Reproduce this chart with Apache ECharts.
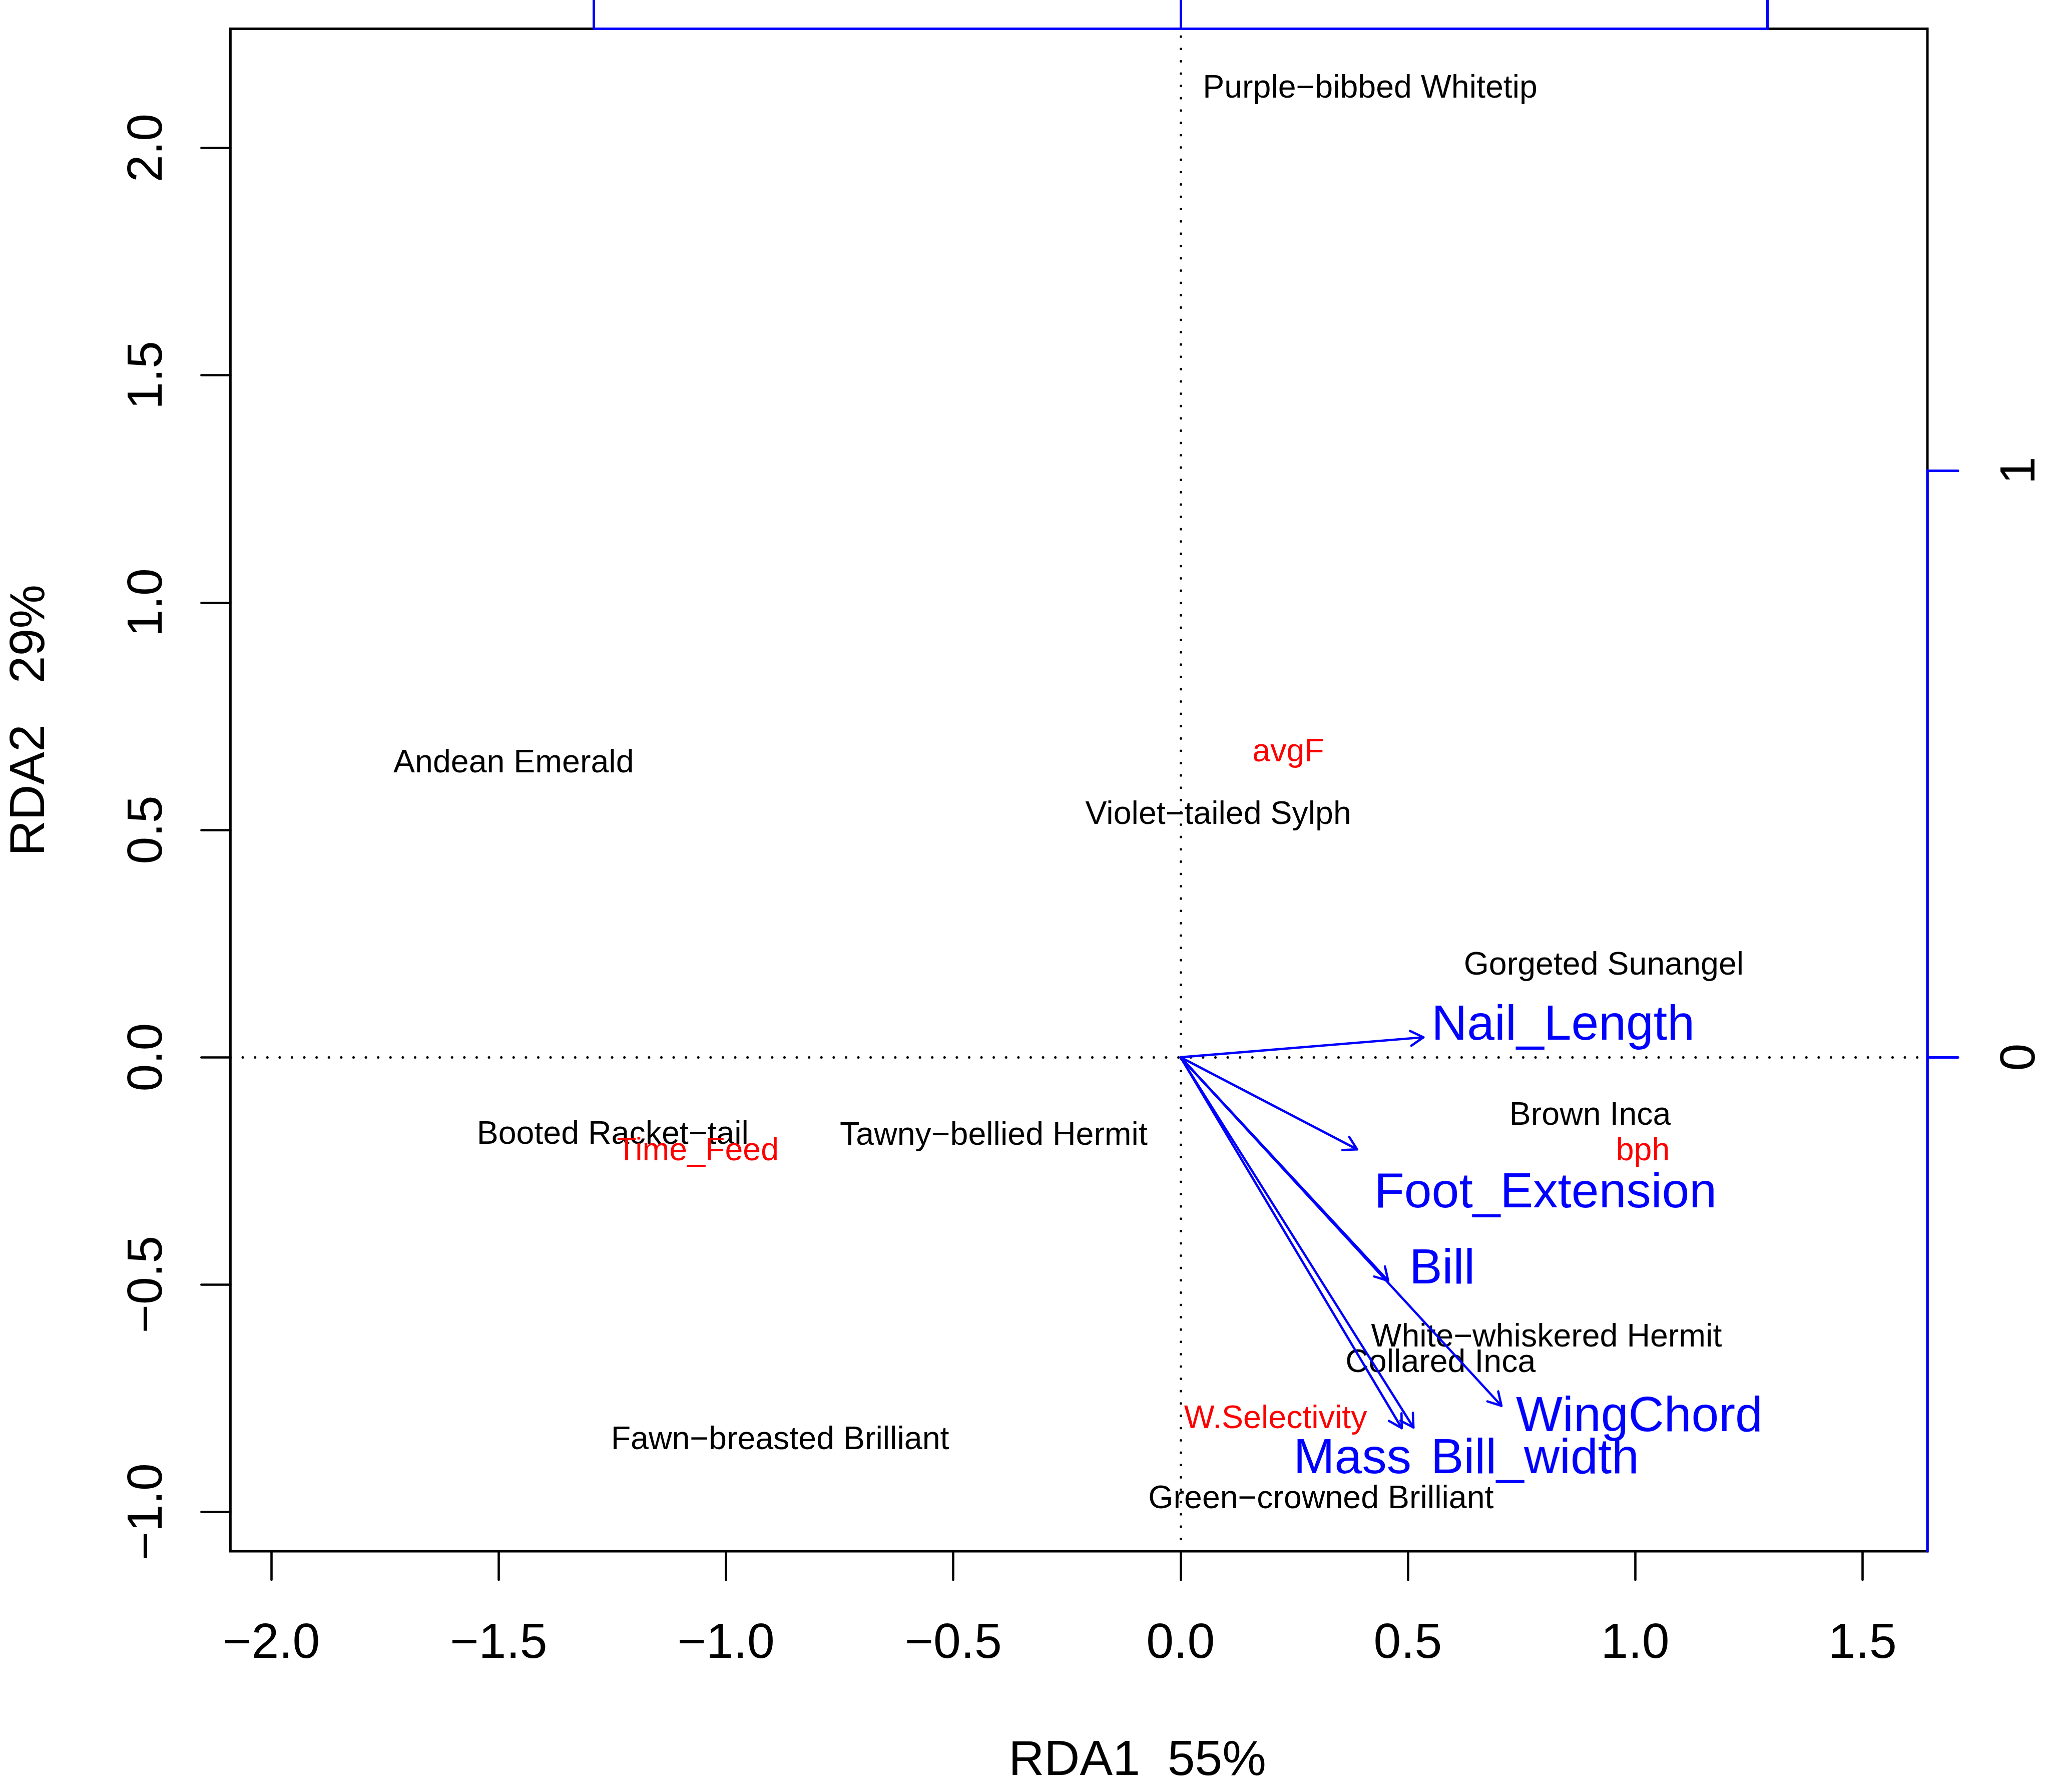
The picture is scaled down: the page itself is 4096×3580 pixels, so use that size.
<!DOCTYPE html>
<html>
<head>
<meta charset="utf-8">
<script src="https://cdn.jsdelivr.net/npm/echarts@6/dist/echarts.min.js"></script>
<style>
html,body{margin:0;padding:0;background:#fff;}
#chart{width:4096px;height:3580px;}
</style>
</head>
<body>
<div id="chart"></div>
<script>
// ---------------- data ----------------
const speciesNames = ["Purple\u2212bibbed Whitetip","Andean Emerald","Violet\u2212tailed Sylph","Gorgeted Sunangel","Brown Inca","Booted Racket\u2212tail","Tawny\u2212bellied Hermit","White\u2212whiskered Hermit","Collared Inca","Fawn\u2212breasted Brilliant","Green\u2212crowned Brilliant"];
const speciesX = [0.417, -1.467, 0.083, 0.931, 0.901, -1.249, -0.411, 0.805, 0.572, -0.881, 0.309];
const speciesY = [2.136, 0.651, 0.538, 0.207, -0.124, -0.165, -0.168, -0.611, -0.667, -0.837, -0.967];

const centroidNames = ["avgF", "Time_Feed", "bph", "W.Selectivity"];
const centroidX = [0.237, -1.062, 1.017, 0.209];
const centroidY = [0.676, -0.202, -0.202, -0.791];

const arrowNames = ["Nail_Length", "Foot_Extension", "Bill", "WingChord", "Mass", "Bill_width"];
const arrowX = [0.414, 0.301, 0.354, 0.547, 0.377, 0.397];
const arrowY = [0.034, -0.157, -0.381, -0.594, -0.632, -0.631];
const arrowLabelX = [0.652, 0.622, 0.446, 0.782, 0.293, 0.604];
const arrowLabelY = [0.059, -0.226, -0.356, -0.608, -0.679, -0.679];

const xTicks = [-2, -1.5, -1, -0.5, 0, 0.5, 1, 1.5];
const yTicks = [-1, -0.5, 0, 0.5, 1, 1.5, 2];
const topTicks = [-1, 0, 1];
const rightTicks = [0, 1];

const xTitle = "RDA1  55%";
const yTitle = "RDA2   29%";

// axis ranges (main scores) and biplot-axis scale factor
const X_MIN = -2.090, X_MAX = 1.643;
const Y_MIN = -1.0865, Y_MAX = 2.262;
const ARROW_SCALE = 1.2906;

// ---------------- style ----------------
const FONT = '"Liberation Sans", Arial, Helvetica, sans-serif';
const BIG = 98.5, SMALL = 64.5;
const BLUE = '#0000FF', RED = '#FF0000', BLACK = '#000000';
const LW = 4.6;
const DY = 0.075; // cap-centre correction (em)

const fmt = v => v.toFixed(1).replace('-', '\u2212');

function textSeries(names, xs, ys, color, size, axisIdx) {
  return {
    type: 'custom',
    xAxisIndex: axisIdx, yAxisIndex: axisIdx,
    silent: true,
    z: 5,
    data: names.map((n, i) => [xs[i], ys[i]]),
    renderItem: function (params, api) {
      const p = api.coord([api.value(0), api.value(1)]);
      return {
        type: 'text',
        style: {
          x: p[0], y: p[1] + DY * size,
          text: names[params.dataIndex],
          fill: color,
          font: size + 'px ' + FONT,
          align: 'center',
          verticalAlign: 'middle'
        }
      };
    }
  };
}

const HEAD = 29.5, HEAD_ANG = Math.PI / 6;

const option = {
  animation: false,
  backgroundColor: '#ffffff',
  grid: {
    left: 460.4, top: 57.5, width: 3390.7, height: 3041.5,
    show: true, borderColor: BLACK, borderWidth: 4.9, containLabel: false
  },
  xAxis: [
    {
      type: 'value', min: X_MIN, max: X_MAX, position: 'bottom',
      axisLine: { show: false, onZero: false },
      splitLine: { show: false },
      axisTick: { show: true, customValues: xTicks, length: 57, inside: false, lineStyle: { color: BLACK, width: LW, cap: 'round' } },
      axisLabel: { show: true, customValues: xTicks, formatter: fmt, fontSize: BIG, fontFamily: FONT, color: BLACK, margin: 136 }
    },
    {
      type: 'value', min: X_MIN / ARROW_SCALE, max: X_MAX / ARROW_SCALE, position: 'top',
      axisLine: { show: false, onZero: false },
      splitLine: { show: false },
      axisTick: { show: true, customValues: topTicks, length: 60, inside: false, lineStyle: { color: BLUE, width: 5, cap: 'round' } },
      axisLabel: { show: false }
    }
  ],
  yAxis: [
    {
      type: 'value', min: Y_MIN, max: Y_MAX, position: 'left',
      axisLine: { show: false, onZero: false },
      splitLine: { show: false },
      axisTick: { show: true, customValues: yTicks, length: 58, inside: false, lineStyle: { color: BLACK, width: LW, cap: 'round' } },
      axisLabel: { show: true, customValues: yTicks, formatter: fmt, rotate: 90, fontSize: BIG, fontFamily: FONT, color: BLACK, margin: 115 }
    },
    {
      type: 'value', min: Y_MIN / ARROW_SCALE, max: Y_MAX / ARROW_SCALE, position: 'right',
      axisLine: { show: false, onZero: false },
      splitLine: { show: false },
      axisTick: { show: true, customValues: rightTicks, length: 61, inside: false, lineStyle: { color: BLUE, width: 5, cap: 'round' } },
      axisLabel: { show: true, customValues: rightTicks, formatter: v => String(v), rotate: 90, fontSize: BIG, fontFamily: FONT, color: BLACK, margin: 137 }
    }
  ],
  graphic: [
    { type: 'text', x: 2272.5, y: 3511 + DY * BIG, silent: true,
      style: { text: xTitle, font: BIG + 'px ' + FONT, fill: BLACK, align: 'center', verticalAlign: 'middle' } },
    { type: 'text', x: 53 + DY * BIG, y: 1439, rotation: Math.PI / 2, silent: true,
      style: { text: yTitle, font: BIG + 'px ' + FONT, fill: BLACK, align: 'center', verticalAlign: 'middle' } }
  ],
  series: [
    // species labels (+ dotted zero lines)
    Object.assign(textSeries(speciesNames, speciesX, speciesY, BLACK, SMALL, 0), {
      markLine: {
        silent: true, symbol: ['none', 'none'], label: { show: false },
        lineStyle: { color: BLACK, width: 5, type: [0.1, 24.5], cap: 'round' },
        emphasis: { disabled: true },
        data: [{ xAxis: 0 }, { yAxis: 0 }]
      }
    }),
    textSeries(centroidNames, centroidX, centroidY, RED, SMALL, 0),
    // biplot arrows
    {
      type: 'custom', xAxisIndex: 1, yAxisIndex: 1, silent: true, z: 6,
      data: arrowNames.map((n, i) => [arrowX[i], arrowY[i]]),
      renderItem: function (params, api) {
        const o = api.coord([0, 0]);
        const t = api.coord([api.value(0), api.value(1)]);
        const ang = Math.atan2(t[1] - o[1], t[0] - o[0]);
        const h1 = [t[0] - HEAD * Math.cos(ang - HEAD_ANG), t[1] - HEAD * Math.sin(ang - HEAD_ANG)];
        const h2 = [t[0] - HEAD * Math.cos(ang + HEAD_ANG), t[1] - HEAD * Math.sin(ang + HEAD_ANG)];
        const st = { stroke: BLUE, lineWidth: LW, fill: 'none', lineCap: 'round', lineJoin: 'round' };
        return {
          type: 'group',
          children: [
            { type: 'line', shape: { x1: o[0], y1: o[1], x2: t[0], y2: t[1] }, style: st },
            { type: 'polyline', shape: { points: [h1, t, h2] }, style: st }
          ]
        };
      }
    },
    textSeries(arrowNames, arrowLabelX, arrowLabelY, BLUE, BIG, 1),
    // blue biplot axis lines (from tick range, clipped to plot region)
    {
      type: 'line', xAxisIndex: 1, yAxisIndex: 1, silent: true, z: 7, clip: false,
      symbol: 'none', lineStyle: { color: BLUE, width: 5, cap: 'round' },
      data: [[topTicks[0], Y_MAX / ARROW_SCALE], [topTicks[topTicks.length - 1], Y_MAX / ARROW_SCALE]]
    },
    {
      type: 'line', xAxisIndex: 1, yAxisIndex: 1, silent: true, z: 7, clip: false,
      symbol: 'none', lineStyle: { color: BLUE, width: 5, cap: 'round' },
      data: [[X_MAX / ARROW_SCALE, rightTicks[rightTicks.length - 1]], [X_MAX / ARROW_SCALE, Y_MIN / ARROW_SCALE]]
    }
  ]
};

const chart = echarts.init(document.getElementById('chart'), null, { renderer: 'canvas' });
chart.setOption(option);
</script>
</body>
</html>
